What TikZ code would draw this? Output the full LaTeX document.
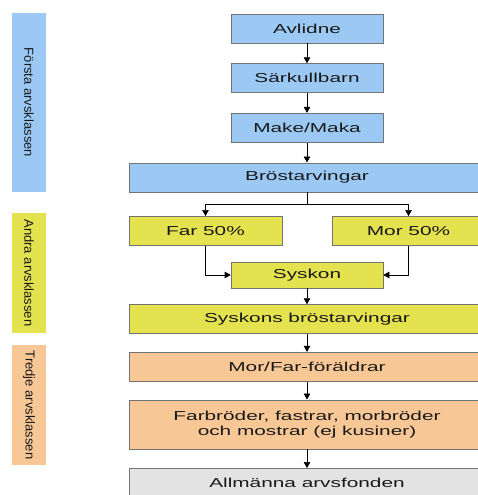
\documentclass[tikz,border=0pt]{standalone}
\usepackage{fontspec}
\setmainfont{Liberation Sans}
\usepackage{graphicx}
\usepackage{tikz}
\usetikzlibrary{arrows.meta,positioning}
\definecolor{blaa}{HTML}{9CC9F4}
\definecolor{gul}{HTML}{E4E24F}
\definecolor{persika}{HTML}{F8C796}
\definecolor{gra}{HTML}{E3E3E3}
\newcommand{\bred}[1]{\scalebox{1.6}[1]{#1}}

\begin{document}
\begin{tikzpicture}[x=1pt, y=-1pt, >={Triangle[length=6pt,width=6.5pt]}, node distance=20pt, line width=0.6pt,
  klass/.style={draw=black!55, minimum height=29pt, inner sep=0pt, text=black!90, font=\fontsize{13}{15}\selectfont},
  smal/.style={klass, minimum width=152pt},
  bred/.style={klass, minimum width=356pt},
  sidobalk/.style={rotate=-90, minimum height=34pt, inner sep=0pt, text=black!90, font=\fontsize{13}{15}\selectfont}]
  \useasboundingbox (0,0) rectangle (478,495);
  \clip (0,0) rectangle (478,495);
  \node[sidobalk, fill=blaa, minimum width=179pt] (forsta) at (29,102.5) {Första arvsklassen};
  \node[sidobalk, fill=gul, minimum width=120pt] (andra) at (29,273) {Andra arvsklassen};
  \node[sidobalk, fill=persika, minimum width=120pt] (tredje) at (29,405) {Tredje arvsklassen};

  \node[smal, fill=blaa] (avlidne) at (307,28.5) {\bred{Avlidne}};
  \node[smal, fill=blaa, below=of avlidne] (sarkull) {\bred{Särkullbarn}};
  \node[smal, fill=blaa, below=of sarkull] (make) {\bred{Make/Maka}};
  \node[bred, fill=blaa, below=of make] (brost) {\bred{Bröstarvingar}};
  \node[klass, fill=gul, minimum width=153pt, below right=24pt and 0pt of brost.south west] (far) {\bred{Far 50\%}};
  \node[klass, fill=gul, minimum width=153pt, below left=24pt and 0pt of brost.south east] (mor) {\bred{Mor 50\%}};
  \coordinate (mitt) at (far.south -| brost.south);
  \node[smal, fill=gul, minimum height=26pt, below=16pt of mitt] (syskon) {\bred{Syskon}};
  \node[bred, fill=gul, below=16pt of syskon] (sysbrost) {\bred{Syskons bröstarvingar}};
  \node[bred, fill=persika, below=18pt of sysbrost] (foraldrar) {\bred{Mor/Far-föräldrar}};
  \node[bred, fill=persika, minimum height=49pt, align=center, below=18pt of foraldrar] (farbror) {\bred{Farbröder, fastrar, morbröder}\\\bred{och mostrar (ej kusiner)}};
  \node[bred, fill=gra, below=19pt of farbror] (fonden) {\bred{Allmänna arvsfonden}};
  \coordinate[below=12pt of brost] (delning);

  \draw[->] (avlidne) -- (sarkull);
  \draw[->] (sarkull) -- (make);
  \draw[->] (make) -- (brost);
  \draw (brost) -- (delning);
  \draw[->] (delning) -| (far);
  \draw[->] (delning) -| (mor);
  \draw[->] (far) |- (syskon);
  \draw[->] (mor) |- (syskon);
  \draw[->] (syskon) -- (sysbrost);
  \draw[->] (sysbrost) -- (foraldrar);
  \draw[->] (foraldrar) -- (farbror);
  \draw[->] (farbror) -- (fonden);
\end{tikzpicture}
\end{document}
